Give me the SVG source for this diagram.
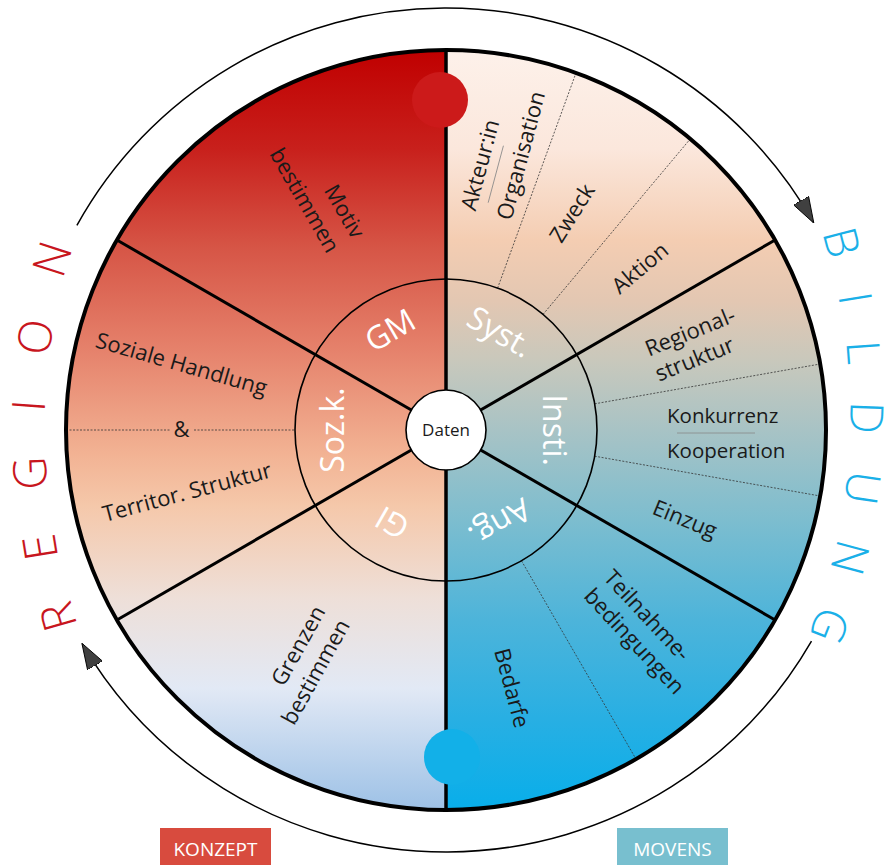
<svg xmlns="http://www.w3.org/2000/svg" xmlns:xlink="http://www.w3.org/1999/xlink" width="886" height="865" viewBox="0 0 886 865">
<defs>
<style>
.lbl{font-family:"Open Sans","Liberation Sans",sans-serif;font-size:22px;fill:#1a1a1a}
.inner{font-family:"Open Sans","Liberation Sans",sans-serif;font-size:32px;font-weight:400;fill:#ffffff}
.big{font-family:"Open Sans","Liberation Sans",sans-serif;font-size:46px;font-weight:300}
.tag{font-family:"Open Sans","Liberation Sans",sans-serif;font-size:19px;font-weight:400;fill:#ffffff}
.spoke{stroke:#000;stroke-width:3;fill:none}
.dash{stroke:#333;stroke-width:0.8;stroke-dasharray:2 1.5;fill:none}
.frac{stroke:#888;stroke-width:0.8}
.arc{stroke:#000;stroke-width:1.5;fill:none;marker-end:url(#arr)}
</style>
<linearGradient id="gL" gradientUnits="userSpaceOnUse" x1="0" y1="50" x2="0" y2="810">
<stop offset="0" stop-color="#C00000"/>
<stop offset="0.13" stop-color="#C8201C"/>
<stop offset="0.26" stop-color="#D65546"/>
<stop offset="0.39" stop-color="#E5806A"/>
<stop offset="0.53" stop-color="#F2B293"/>
<stop offset="0.6" stop-color="#F5C8AA"/>
<stop offset="0.72" stop-color="#EEDFD8"/>
<stop offset="0.84" stop-color="#E2E9F5"/>
<stop offset="1" stop-color="#9DC1E6"/>
</linearGradient>
<linearGradient id="gR" gradientUnits="userSpaceOnUse" x1="0" y1="50" x2="0" y2="810">
<stop offset="0" stop-color="#FDF1EA"/>
<stop offset="0.13" stop-color="#FBE7DC"/>
<stop offset="0.25" stop-color="#F4CDB2"/>
<stop offset="0.33" stop-color="#E3C7B2"/>
<stop offset="0.41" stop-color="#C8C8BC"/>
<stop offset="0.5" stop-color="#A8C3C5"/>
<stop offset="0.62" stop-color="#7CBDCF"/>
<stop offset="0.75" stop-color="#4DB4DA"/>
<stop offset="0.88" stop-color="#28AFE3"/>
<stop offset="1" stop-color="#08AEEA"/>
</linearGradient>
<marker id="arr" markerUnits="userSpaceOnUse" markerWidth="26" markerHeight="18" viewBox="0 0 24 16" refX="23" refY="8" orient="auto">
<path d="M0,0 L24,8 L0,16 Z" fill="#404040" stroke="#000" stroke-width="0.8"/>
</marker>
<path id="pR" d="M 709.6 30.3 A 600 600 0 0 1 709.6 801.7"/>
<path id="pL" d="M 184.7 811.7 A 597 597 0 0 1 184.7 44.3"/>
</defs>

<g id="wheel">
<path d="M 446 50 A 380 380 0 0 0 446 810 Z" fill="url(#gL)"/>
<path d="M 446 50 A 380 380 0 0 1 446 810 Z" fill="url(#gR)"/>
</g>

<g id="connectors">
<line class="dash" x1="497.6" y1="288.1" x2="576" y2="72.9"/>
<line class="dash" x1="543.1" y1="314.3" x2="690.3" y2="138.9"/>
<line class="dash" x1="594.7" y1="403.8" x2="820.2" y2="364"/>
<line class="dash" x1="594.7" y1="456.2" x2="820.2" y2="496"/>
<line class="dash" x1="521.5" y1="560.8" x2="636" y2="759.1"/>
<line class="dash" x1="66" y1="430" x2="171" y2="430"/>
<line class="dash" x1="194" y1="430" x2="295" y2="430"/>
<circle cx="446" cy="430" r="151" fill="none" stroke="#000" stroke-width="1.6"/>
<line class="spoke" x1="446" y1="50" x2="446" y2="810" style="stroke-width:3.5"/>
<line class="spoke" x1="446" y1="430" x2="775.1" y2="240"/>
<line class="spoke" x1="446" y1="430" x2="116.9" y2="240"/>
<line class="spoke" x1="446" y1="430" x2="116.9" y2="620"/>
<line class="spoke" x1="446" y1="430" x2="775.1" y2="620"/>
<circle cx="446" cy="430" r="380" fill="none" stroke="#000" stroke-width="4"/>
<path class="arc" d="M 76.9 225.4 A 422 422 0 0 1 813.3 222.2"/>
<path class="arc" d="M 811.5 641 A 422 422 0 0 1 82.4 644.1"/>
</g>

<g id="dot-top"><circle cx="440" cy="100" r="28" fill="#CC1A1A"/></g>
<g id="dot-bottom"><circle cx="452" cy="757" r="28" fill="#12B0E8"/></g>

<g id="daten">
<circle cx="446" cy="430" r="40" fill="#fff" stroke="#000" stroke-width="1.6"/>
<text class="lbl" x="446" y="436" text-anchor="middle" style="font-size:17px">Daten</text>
</g>

<g id="inner-labels">
<text class="inner" transform="translate(390,330) rotate(-30)" y="11.5" text-anchor="middle">GM</text>
<text class="inner" transform="translate(498,335) rotate(30)" y="7.5" text-anchor="middle">Syst.</text>
<text class="inner" transform="translate(554,430) rotate(90)" y="11.5" text-anchor="middle">Insti.</text>
<text class="inner" transform="translate(498,520) rotate(150)" y="7.5" text-anchor="middle">Ang.</text>
<text class="inner" transform="translate(392,523) rotate(-150)" y="11.5" text-anchor="middle">GI</text>
<text class="inner" transform="translate(332,430) rotate(-90)" y="11.5" text-anchor="middle">Soz.k.</text>
</g>

<g id="motiv">
<text class="lbl" transform="translate(352.2,240) rotate(60)" text-anchor="end"><tspan x="0" y="0">Motiv</tspan><tspan x="0" y="29">bestimmen</tspan></text>
</g>
<g id="soziale">
<text class="lbl" transform="translate(181.5,364) rotate(16)" y="7.7" text-anchor="middle">Soziale Handlung</text>
<text class="lbl" x="181.5" y="437" text-anchor="middle">&amp;</text>
<text class="lbl" transform="translate(187,492) rotate(-15)" y="7.7" text-anchor="middle">Territor. Struktur</text>
</g>
<g id="grenzen">
<text class="lbl" transform="translate(326,611.3) rotate(-61)" text-anchor="end"><tspan x="0" y="0">Grenzen</tspan><tspan x="0" y="28">bestimmen</tspan></text>
</g>
<g id="akteur">
<g transform="translate(475.4,211.7) rotate(-75)">
<text class="lbl" x="0" y="0">Akteur:in</text>
<line class="frac" x1="12" y1="10" x2="71" y2="10"/>
<text class="lbl" x="0" y="37">Organisation</text>
</g>
</g>
<g id="zweck"><text class="lbl" transform="translate(572,213) rotate(-58)" y="7.7" text-anchor="middle">Zweck</text></g>
<g id="aktion"><text class="lbl" transform="translate(640,268) rotate(-40)" y="7.7" text-anchor="middle">Aktion</text></g>
<g id="regional">
<text class="lbl" transform="translate(649,356.7) rotate(-22)"><tspan x="0" y="0">Regional-</tspan><tspan x="0" y="27">struktur</tspan></text>
</g>
<g id="konkurrenz">
<text class="lbl" x="667" y="423" style="font-size:20.5px">Konkurrenz</text>
<line class="frac" x1="677" y1="433" x2="755" y2="433"/>
<text class="lbl" x="667" y="458" style="font-size:20.5px">Kooperation</text>
</g>
<g id="einzug"><text class="lbl" transform="translate(685,519) rotate(22)" y="7.7" text-anchor="middle">Einzug</text></g>
<g id="teilnahme">
<text class="lbl" transform="translate(602.5,578.6) rotate(47)"><tspan x="0" y="0">Teilnahme-</tspan><tspan x="0" y="27">bedingungen</tspan></text>
</g>
<g id="bedarfe"><text class="lbl" transform="translate(512,688) rotate(75)" y="7.7" text-anchor="middle">Bedarfe</text></g>

<g id="bildung">
<text class="big" fill="#1AB0E8" letter-spacing="35.7"><textPath xlink:href="#pR" href="#pR" startOffset="232.7">BILDUNG</textPath></text>
</g>
<g id="region">
<text class="big" fill="#C8161E" letter-spacing="43.5"><textPath xlink:href="#pL" href="#pL" startOffset="215.7">REGION</textPath></text>
</g>

<g id="konzept">
<rect x="160" y="828" width="111" height="40" fill="#D84B3E"/>
<text class="tag" x="215.5" y="856" text-anchor="middle">KONZEPT</text>
</g>
<g id="movens">
<rect x="617" y="828" width="111" height="40" fill="#78BFCF"/>
<text class="tag" x="672.5" y="856" text-anchor="middle">MOVENS</text>
</g>
</svg>
